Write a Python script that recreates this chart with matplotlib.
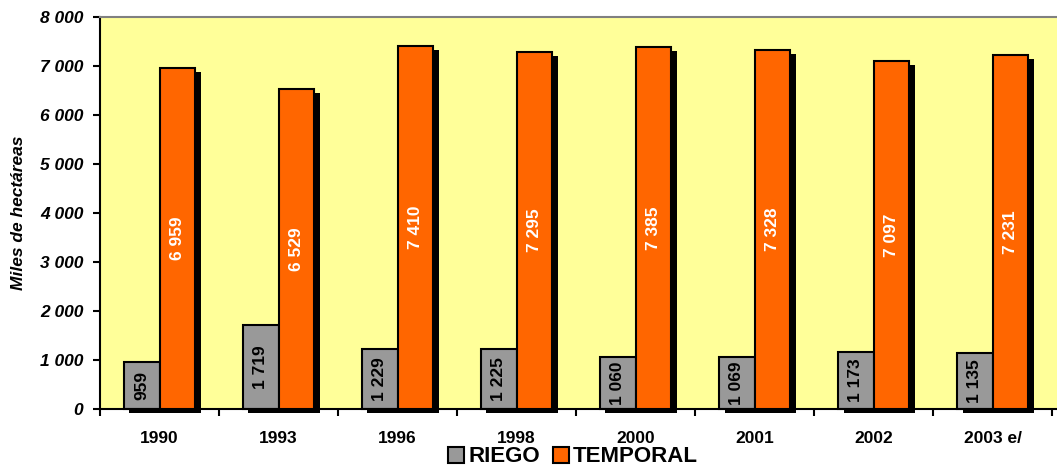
import matplotlib
matplotlib.use("Agg")
import matplotlib.pyplot as plt
import matplotlib.patheffects as pe
import numpy as np
from matplotlib.ticker import FuncFormatter, FixedLocator

years = ["1990", "1993", "1996", "1998", "2000", "2001", "2002", "2003 e/"]
riego = [959, 1719, 1229, 1225, 1060, 1069, 1173, 1135]
temporal = [6959, 6529, 7410, 7295, 7385, 7328, 7097, 7231]
riego_labels = ["959", "1 719", "1 229", "1 225", "1 060", "1 069", "1 173", "1 135"]
temporal_labels = ["6 959", "6 529", "7 410", "7 295", "7 385", "7 328", "7 097", "7 231"]

plt.rcParams['font.family'] = ['Liberation Sans', 'DejaVu Sans']

fig = plt.figure(figsize=(10.57, 4.67), dpi=100)
ax = fig.add_axes([100/1057, 1-409/467, 957/1057, (409-17)/467])
ax.set_facecolor("#FFFF99")

x = np.arange(len(years))
w = 0.30
shadow = [pe.SimplePatchShadow(offset=(4, -3), shadow_rgbFace="black", alpha=1.0), pe.Normal()]
b1 = ax.bar(x - w/2, riego, width=w, color="#999999", edgecolor="black", linewidth=1.5,
            clip_on=False, path_effects=shadow, zorder=2)
b2 = ax.bar(x + w/2, temporal, width=w, color="#FF6600", edgecolor="black", linewidth=1.5,
            clip_on=False, path_effects=shadow, zorder=3)

for xi, v, lab in zip(x, riego, riego_labels):
    ax.text(xi - w/2, v/2, lab, rotation=90, ha="center", va="center",
            fontsize=12.5, fontweight="bold", color="black", zorder=5)
for xi, v, lab in zip(x, temporal, temporal_labels):
    ax.text(xi + w/2, v/2, lab, rotation=90, ha="center", va="center",
            fontsize=12.5, fontweight="bold", color="white", zorder=5)

ax.set_xlim(-0.5, len(years) - 0.5 + 0.04)
ax.set_ylim(0, 8000)
ax.yaxis.set_major_locator(FixedLocator(np.arange(0, 8001, 1000)))
ax.yaxis.set_major_formatter(FuncFormatter(lambda v, p: f"{int(v):,}".replace(",", " ")))
for t in ax.get_yticklabels():
    t.set_fontweight("bold"); t.set_fontstyle("italic"); t.set_fontsize(12.5)

ax.set_xticks(np.arange(len(years) + 1) - 0.5)
ax.set_xticklabels([])
ax.set_xticks(x, minor=True)
ax.set_xticklabels(years, minor=True, fontsize=12.5, fontweight="bold")
ax.tick_params(axis="x", which="minor", length=0, pad=16)
ax.tick_params(axis="x", which="major", length=5, width=1.5, direction="out")
ax.tick_params(axis="y", length=5, width=1.5, direction="out", pad=7)

ax.spines["left"].set_linewidth(1.5)
ax.spines["bottom"].set_linewidth(1.5)
ax.spines["right"].set_visible(False)
ax.spines["top"].set_color("#808080")
ax.spines["top"].set_linewidth(1.5)

ax.set_ylabel("Miles de hectáreas", fontsize=12.5, fontweight="bold", fontstyle="italic", labelpad=10)

leg = fig.legend([b1, b2], ["RIEGO", "TEMPORAL"], loc="center", bbox_to_anchor=(573/1057, 1-457/467),
                 ncol=2, frameon=False, prop={"weight": "bold", "size": 16},
                 handlelength=0.7, handleheight=0.7, handletextpad=0.2, columnspacing=0.6,
                 borderpad=0)
for h in leg.legend_handles:
    h.set_path_effects([])

fig.savefig("out.png", dpi=100)
